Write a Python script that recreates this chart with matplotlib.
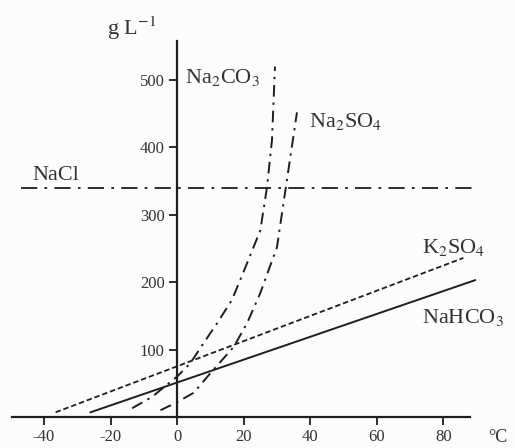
import numpy as np
import matplotlib
matplotlib.use("Agg")
import matplotlib.pyplot as plt

# solubilidad (g/L) frente a temperatura (°C)
nacl_t = [-47, 90]
nacl_s = [340, 340]

k2so4_t = [-36.5, 86]
k2so4_s = [7, 236]

nahco3_t = [-26, 89.5]
nahco3_s = [7, 203]

na2co3_t = [-13.5, -7.5, 0, 4, 8, 12, 16.5, 21, 25, 27, 28.5, 29.4]
na2co3_s = [13, 30, 60, 80, 110, 139, 174, 228, 277, 341, 411, 520]

na2so4_t = [-5, 0, 5, 10, 17, 21, 25, 30, 33, 36]
na2so4_s = [10, 22, 36, 65, 104, 139, 184, 252, 352, 452]

x_ticks = [-40, -20, 0, 20, 40, 60, 80]
y_ticks = [100, 200, 300, 400, 500]

plt.rcParams['font.family'] = ['Liberation Serif', 'DejaVu Serif']
plt.rcParams['mathtext.fontset'] = 'stix'

fig = plt.figure(figsize=(5.15, 4.48), dpi=100, facecolor='#fdfcfa')
ax = fig.add_axes([0, 0, 1, 1])
ax.set_facecolor('#fdfcfa')
ax.set_xlim(-53.2, 101.5)
ax.set_ylim(-46, 618.7)

col = '#1e1e1e'
ax.plot(nacl_t, nacl_s, color=col, lw=1.3, dashes=(9, 4, 1.5, 4))
ax.plot(k2so4_t, k2so4_s, color=col, lw=1.3, dashes=(3, 1.6))
ax.plot(nahco3_t, nahco3_s, color=col, lw=1.4)
ax.plot(na2co3_t, na2co3_s, color=col, lw=1.4, dashes=(6, 3, 1.2, 3))
ax.plot(na2so4_t, na2so4_s, color=col, lw=1.4, dashes=(6, 3, 1.2, 3))

# ejes cruzando en el origen
for s in ['top', 'right']:
    ax.spines[s].set_visible(False)
ax.spines['left'].set_position(('data', 0))
ax.spines['bottom'].set_position(('data', 0))
ax.spines['left'].set_bounds(0, 558)
ax.spines['bottom'].set_bounds(-49.5, 88)
for s in ['left', 'bottom']:
    ax.spines[s].set_linewidth(1.6)
    ax.spines[s].set_color(col)

ax.set_xticks(x_ticks)
ax.set_yticks(y_ticks)
ax.set_xticklabels([str(v) for v in x_ticks])
ax.set_yticklabels([str(v) for v in y_ticks])
ax.tick_params(axis='both', direction='out', length=6, width=1.3, color=col,
               labelsize=12, labelcolor='#333333', pad=3)

ts = dict(fontsize=16, color='#333333')
ax.text(-13.5, 577, 'g L$^{-1}$', ha='center', va='center', **ts)
ax.text(2.5, 503, 'Na$_2$CO$_3$', ha='left', va='center', **ts)
ax.text(39.5, 438, 'Na$_2$SO$_4$', ha='left', va='center', **ts)
ax.text(-43.5, 359, 'NaCl', ha='left', va='center', **ts)
ax.text(73.5, 251, 'K$_2$SO$_4$', ha='left', va='center', **ts)
ax.text(73.5, 147, 'NaHCO$_3$', ha='left', va='center', **ts)
ax.text(93.5, -31, '°C', ha='left', va='center', fontsize=13, color='#333333')

fig.savefig('out.png', dpi=100, facecolor=fig.get_facecolor())
